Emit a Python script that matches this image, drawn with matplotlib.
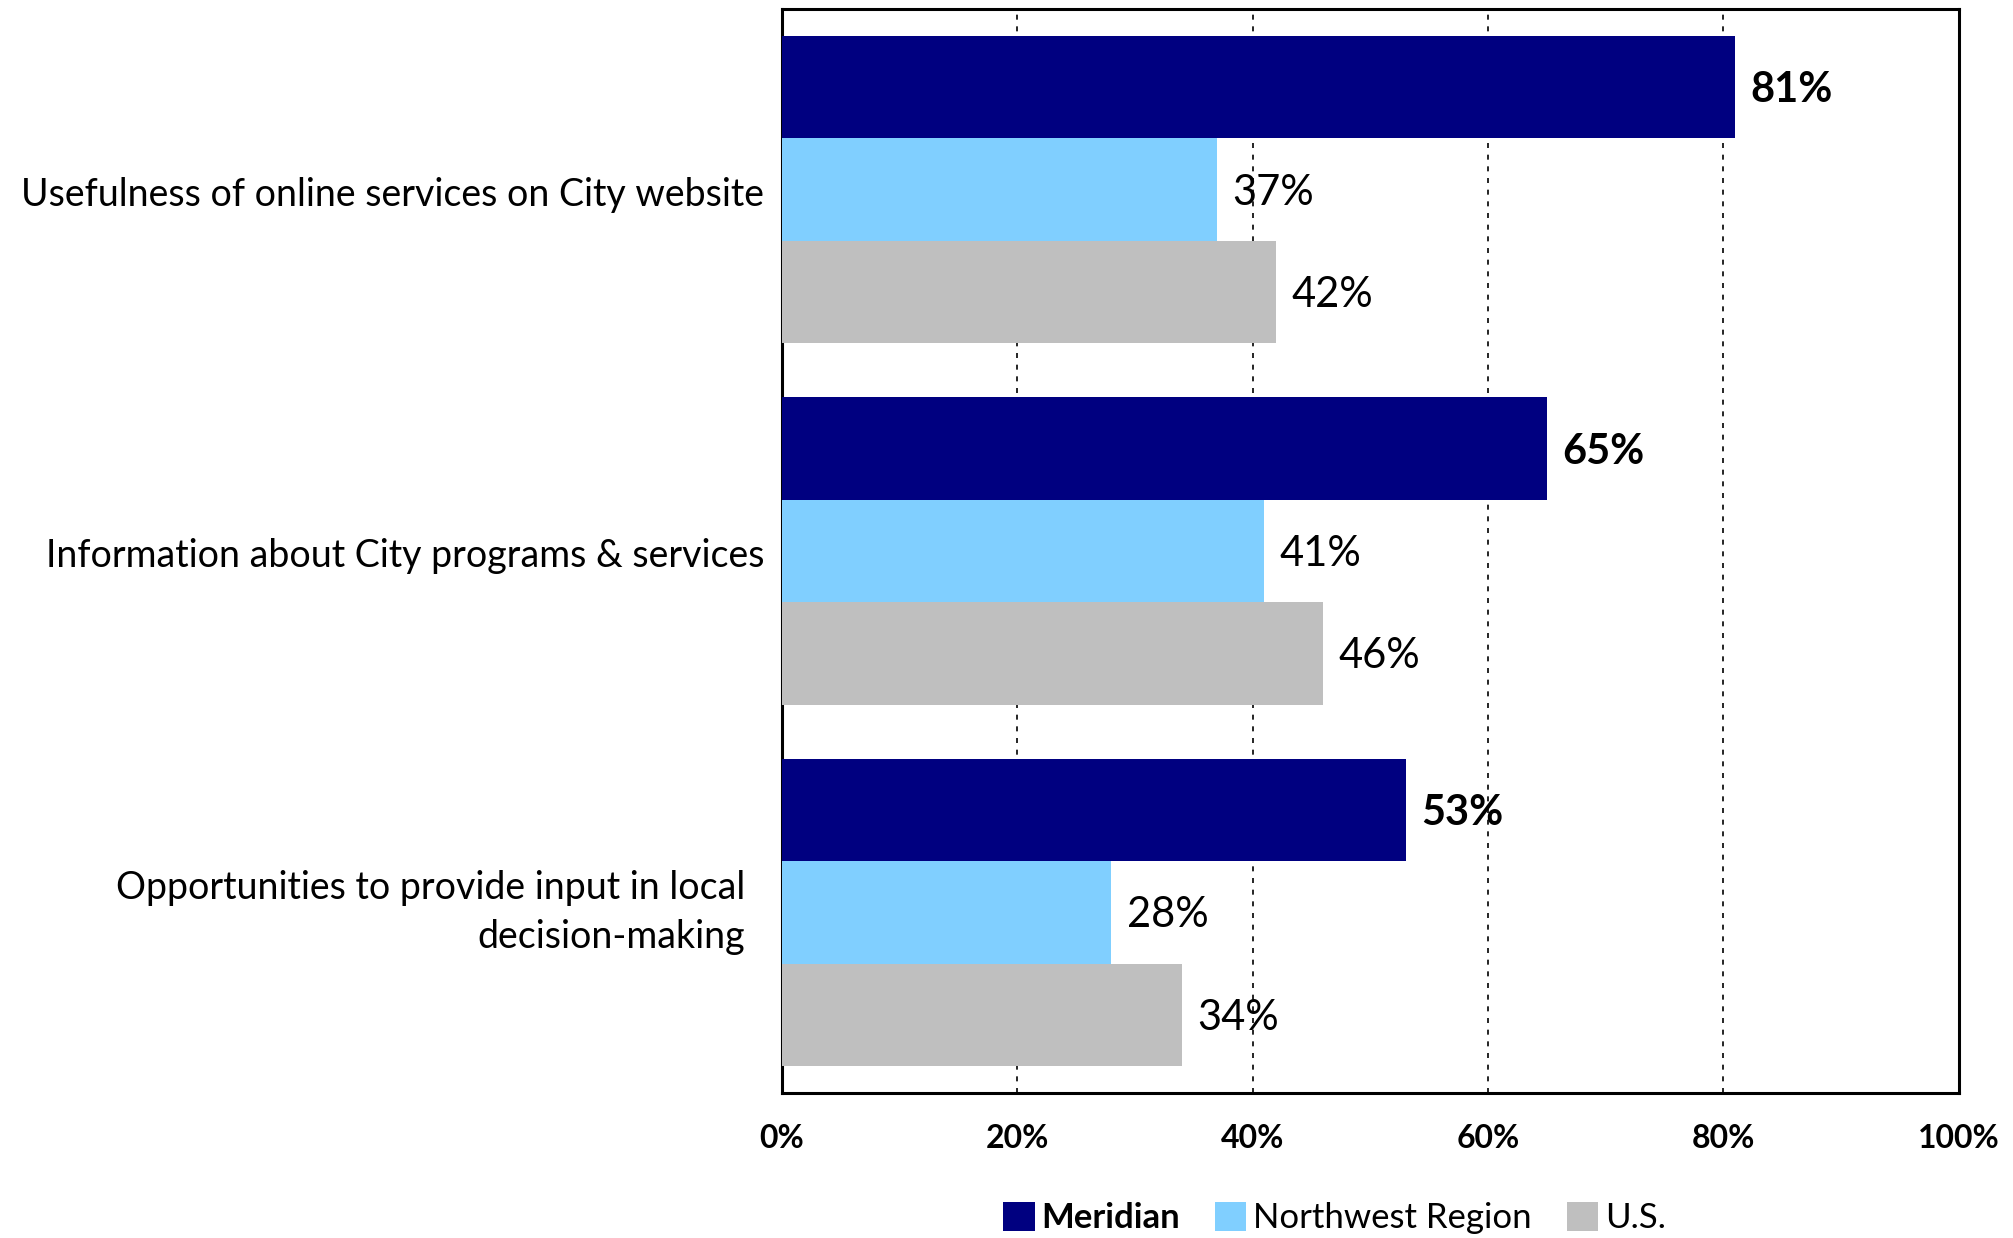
import numpy as np
import matplotlib.pyplot as plt
from matplotlib.ticker import FuncFormatter
from matplotlib.transforms import blended_transform_factory, ScaledTranslation

plt.rcParams['font.family'] = ['Lato', 'DejaVu Sans']

categories = [
    "Usefulness of online services on City website",
    "Information about City programs & services",
    "Opportunities to provide input in local\ndecision-making",
]
series_names = ["Meridian", "Northwest Region", "U.S."]
meridian = [81, 65, 53]
northwest = [37, 41, 28]
us = [42, 46, 34]
colors = ["#000080", "#80CFFF", "#BFBFBF"]
x_ticks = [0, 20, 40, 60, 80, 100]

fig = plt.figure(figsize=(20.13, 12.38), dpi=100)
ax = fig.add_axes([0.3885, 0.117, 0.5845, 0.8757])

y = np.arange(len(categories))
bar_h = 0.2835
all_series = [meridian, northwest, us]
for i, (vals, name, col) in enumerate(zip(all_series, series_names, colors)):
    pos = y + (i - 1) * bar_h
    bars = ax.barh(pos, vals, height=bar_h, color=col, label=name, zorder=3)
    for b, v in zip(bars, vals):
        ax.text(b.get_width() + 1.3, b.get_y() + b.get_height() / 2 + 0.008, f"{v}%",
                va="center", ha="left", fontsize=30,
                fontweight="bold" if i == 0 else "normal", zorder=4)

ax.set_xlim(0, 100)
ax.set_ylim(2.5, -0.5)
ax.set_xticks(x_ticks)
ax.xaxis.set_major_formatter(FuncFormatter(lambda v, _: f"{v:.0f}%"))
ax.set_yticks([])
ax.tick_params(axis="x", length=0, pad=22, labelsize=23)
for lbl in ax.get_xticklabels():
    lbl.set_fontweight("bold")

# category labels, the wrapped one sits a little further from the axis
trans = blended_transform_factory(ax.transAxes, ax.transData)
offsets = [(0.18, -0.05), (0.18, -0.05), (0.37, 0.0)]
for yc, text, (dx, dy) in zip(y, categories, offsets):
    off = ScaledTranslation(-dx, dy, fig.dpi_scale_trans)
    ax.text(0, yc, text, transform=trans + off, ha="right", va="center",
            fontsize=27, linespacing=1.42, multialignment="right")

ax.grid(axis="x", color="black", linestyle=(0, (3, 4)), linewidth=1.2, zorder=0)
ax.set_axisbelow(True)
for sp in ax.spines.values():
    sp.set_linewidth(2.2)
    sp.set_color("black")

leg = fig.legend(loc="center", bbox_to_anchor=(0.663, 0.016), ncol=3,
                 frameon=False, fontsize=25, handlelength=0.9, handleheight=0.9,
                 handletextpad=0.2, columnspacing=1.0)
leg.get_texts()[0].set_fontweight("bold")

fig.savefig("out.png", dpi=100)
